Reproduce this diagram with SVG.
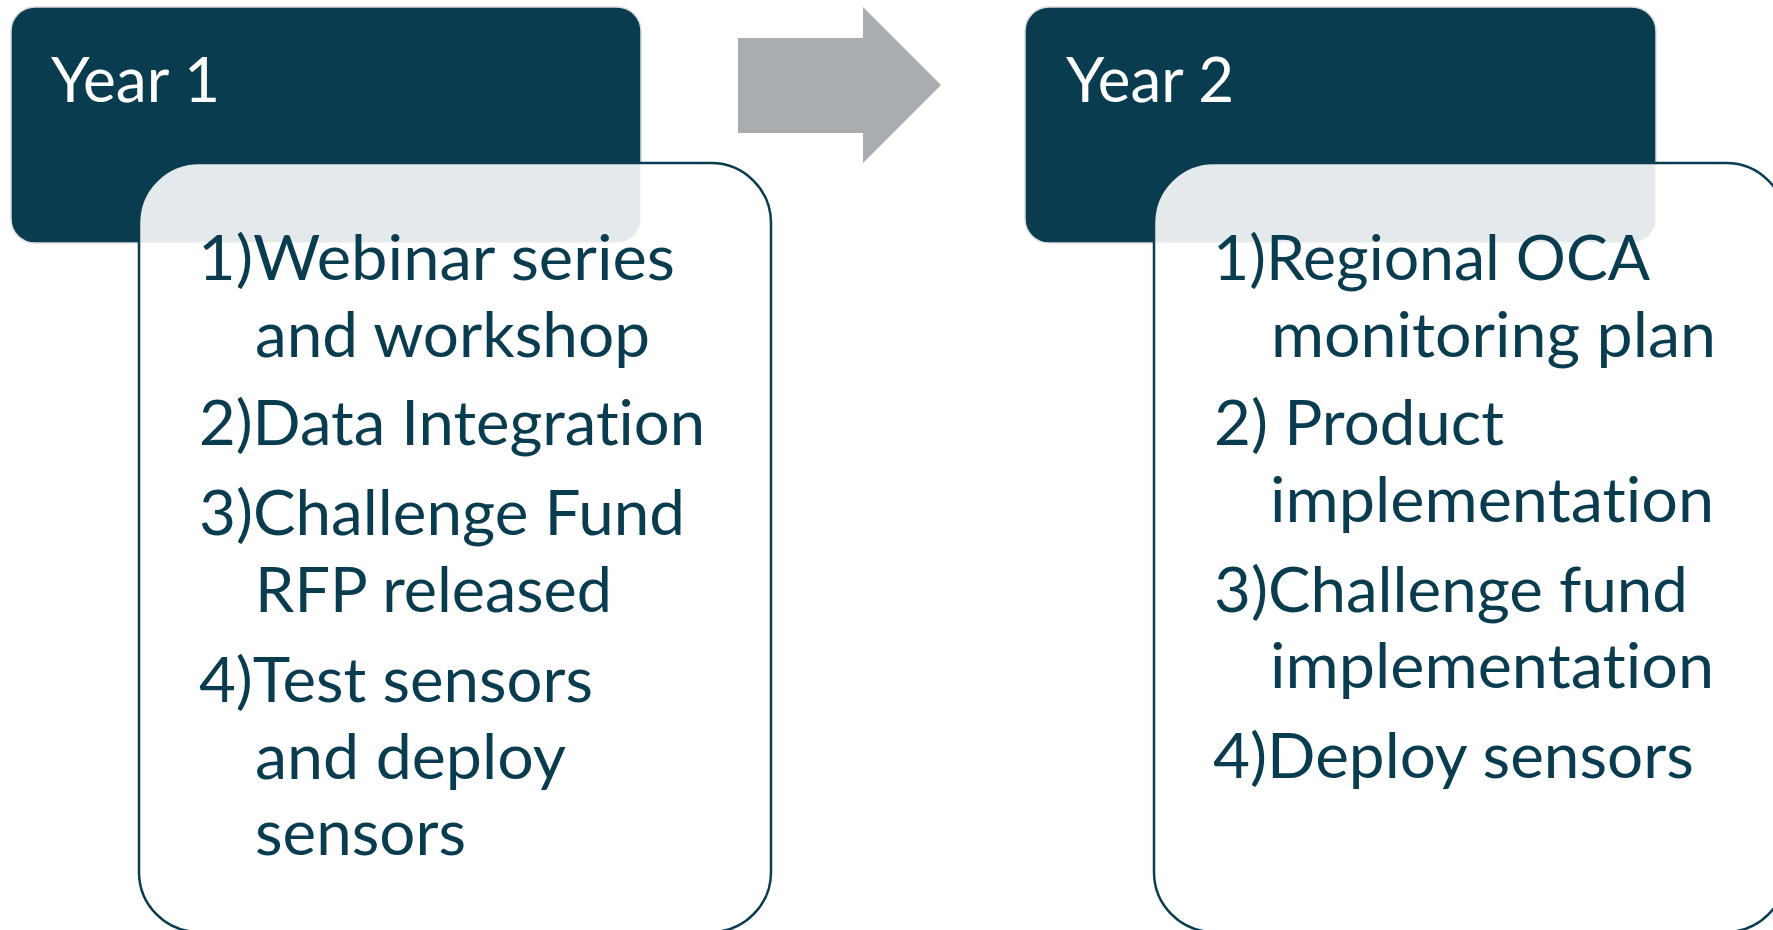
<svg xmlns="http://www.w3.org/2000/svg" width="1773" height="930" viewBox="0 0 1773 930">
<style>
.hdr{fill:#0a3c50;stroke:#d9dcde;stroke-width:1.5}
.card{fill:#ffffff;fill-opacity:0.89;stroke:#0a3c50;stroke-width:2.5}
.ttl,.itm{font-family:Lato,"Open Sans",sans-serif;font-size:61px;font-variant-ligatures:none;font-feature-settings:"liga" 0,"clig" 0,"dlig" 0}
.ttl{fill:#ffffff}
.itm{fill:#0a3c50}
</style>
<rect width="1773" height="930" fill="#ffffff"/>
<g id="connectors">
<polygon points="738,38 863,38 863,7 941,85 863,163 863,133 738,133" fill="#a9adb0"/>
</g>
<g id="year1">
<rect class="hdr" x="11" y="7" width="630" height="236" rx="24" ry="24"/>
<text class="ttl" x="51" y="102" textLength="169" lengthAdjust="spacingAndGlyphs">Year 1</text>
<rect class="card" x="139" y="163" width="632" height="769" rx="60" ry="60"/>
<text class="itm" x="198" y="280" textLength="477" lengthAdjust="spacingAndGlyphs">1)Webinar series</text>
<text class="itm" x="255" y="357" textLength="395" lengthAdjust="spacingAndGlyphs">and workshop</text>
<text class="itm" x="199" y="445" textLength="506" lengthAdjust="spacingAndGlyphs">2)Data Integration</text>
<text class="itm" x="199" y="535" textLength="486" lengthAdjust="spacingAndGlyphs">3)Challenge Fund</text>
<text class="itm" x="255" y="612" textLength="357" lengthAdjust="spacingAndGlyphs">RFP released</text>
<text class="itm" x="199" y="702" textLength="394" lengthAdjust="spacingAndGlyphs">4)Test sensors</text>
<text class="itm" x="255" y="779" textLength="311" lengthAdjust="spacingAndGlyphs">and deploy</text>
<text class="itm" x="255" y="855" textLength="211" lengthAdjust="spacingAndGlyphs">sensors</text>
</g>
<g id="year2">
<rect class="hdr" x="1025" y="7" width="631" height="236" rx="24" ry="24"/>
<text class="ttl" x="1066" y="102" textLength="168" lengthAdjust="spacingAndGlyphs">Year 2</text>
<rect class="card" x="1154" y="163" width="632" height="769" rx="60" ry="60"/>
<text class="itm" x="1213" y="280" textLength="437" lengthAdjust="spacingAndGlyphs">1)Regional OCA</text>
<text class="itm" x="1271" y="357" textLength="445" lengthAdjust="spacingAndGlyphs">monitoring plan</text>
<text class="itm" x="1214" y="445" textLength="290" lengthAdjust="spacingAndGlyphs">2) Product</text>
<text class="itm" x="1270" y="522" textLength="444" lengthAdjust="spacingAndGlyphs">implementation</text>
<text class="itm" x="1214" y="612" textLength="474" lengthAdjust="spacingAndGlyphs">3)Challenge fund</text>
<text class="itm" x="1270" y="688" textLength="444" lengthAdjust="spacingAndGlyphs">implementation</text>
<text class="itm" x="1213" y="778" textLength="481" lengthAdjust="spacingAndGlyphs">4)Deploy sensors</text>
</g>
</svg>
